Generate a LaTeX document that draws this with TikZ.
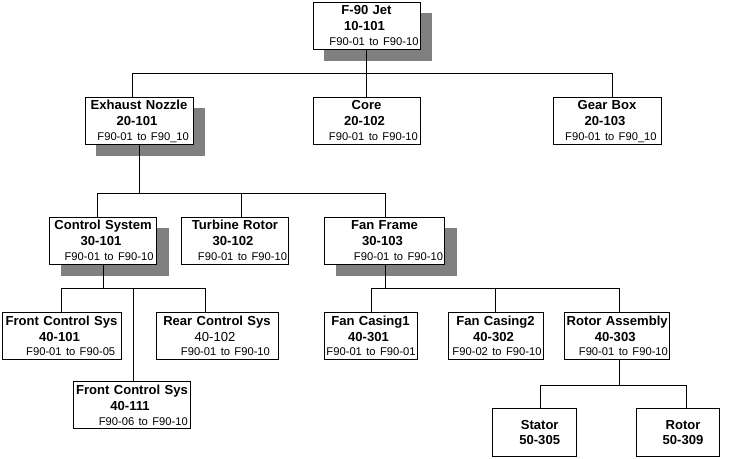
\documentclass[tikz,border=0pt]{standalone}
\usepackage{fontspec}
\setmainfont{Liberation Sans}
\usetikzlibrary{backgrounds}
\definecolor{shadowgray}{RGB}{128,128,128}
\newcommand\bxtri[4]{#1\\[1.1pt]#2\kern3pt\\\makebox[\linewidth][r]{\fontsize{8.4}{10.9}\selectfont\mdseries #3\hspace*{#4pt}}}
\newcommand\bxduo[2]{\hspace*{7.5pt}#1\\[0.35pt]\hspace*{7.5pt}#2}
\tikzset{
  orgbox/.style={draw, line width=0.75pt, fill=white, inner xsep=1.125pt, inner ysep=0pt,
    align=center, font=\fontsize{9.8}{10.9}\selectfont\bfseries,
    text height=7.1pt, text depth=22.9pt, minimum height=35.25pt},
  leafbox/.style={orgbox, text depth=11.25pt, minimum height=35.8pt},
  bw/.style={minimum width={#1*0.75pt}, text width={(#1-3)*0.75pt}},
  shade/.style={fill=shadowgray, draw=none},
  link/.style={line width=0.75pt}
}
\begin{document}
\begin{tikzpicture}[x=0.75pt,y=-0.75pt]
\useasboundingbox (0,0) rectangle (733,458);
% level 1
\node[orgbox, bw=107] (jet) at (366.5,25.5) {\bxtri{F-90 Jet}{10-101}{F90-01 to F90-10}{0}};
% level 2
\node[orgbox, bw=108] (exhaust) at (139,120.5) {\bxtri{Exhaust Nozzle}{20-101}{F90-01 to F90\_10}{1.9}};
\node[orgbox, bw=107] (core) at (366.5,120.5) {\bxtri{Core}{20-102}{F90-01 to F90-10}{0.4}};
\node[orgbox, bw=108] (gear) at (607,120.5) {\bxtri{Gear Box}{20-103}{F90-01 to F90\_10}{2.1}};
% level 3
\node[orgbox, bw=107] (ctrl) at (103,240.5) {\bxtri{Control System}{30-101}{F90-01 to F90-10}{1.1}};
\node[orgbox, bw=107] (turb) at (235,240.5) {\bxtri{Turbine Rotor}{30-102}{F90-01 to F90-10}{0}};
\node[orgbox, bw=120] (fanframe) at (384.5,240.5) {\bxtri{Fan Frame}{30-103}{F90-01 to F90-10}{0}};
% level 4
\node[orgbox, bw=119] (fcsa) at (61.5,335.7) {\bxtri{Front Control Sys}{40-101}{F90-01 to F90-05}{3.2}};
\node[orgbox, bw=122] (rcs) at (217,335.7) {\bxtri{Rear Control Sys}{{\mdseries 40-102}}{F90-01 to F90-10}{4.9}};
\node[orgbox, bw=93] (fca) at (370.5,335.7) {\bxtri{Fan Casing1}{40-301}{F90-01 to F90-01}{0}};
\node[orgbox, bw=95] (fcb) at (495.5,335.7) {\bxtri{Fan Casing2}{40-302}{F90-02 to F90-10}{0}};
\node[orgbox, bw=104.5] (rotasm) at (617.2,335.7) {\bxtri{Rotor Assembly}{40-303}{F90-01 to F90-10}{0}};
\node[orgbox, bw=117.5] (fcsb) at (132,405) {\bxtri{Front Control Sys}{40-111}{F90-06 to F90-10}{1.1}};
% level 5
\node[leafbox, bw=84] (stator) at (534.7,432.2) {\bxduo{Stator}{50-305}};
\node[leafbox, bw=82.6] (rotor) at (678,432.2) {\bxduo{Rotor}{50-309}};
% buses
\coordinate (bus1) at (366.5,73);
\coordinate (bus2) at (139,193.3);
\coordinate (bus3) at (103,288.5);
\coordinate (bus4) at (385.5,288.5);
\coordinate (bus5) at (619.5,385);
\begin{scope}[on background layer]
  \fill[white] (0,0) rectangle (733,458);
  \foreach \n in {jet,exhaust,ctrl,fanframe}
    \fill[shade] ([shift={(11.5,11.5)}]\n.south west) rectangle ([shift={(11.5,11.5)}]\n.north east);
  % level 1 -> 2
  \draw[link] (jet.south -| bus1) -- (bus1);
  \draw[link] ([xshift=-4.875pt]exhaust.north) |- (bus1);
  \draw[link] (core.north -| bus1) -- (bus1);
  \draw[link] ([xshift=4.125pt]gear.north) |- (bus1);
  % level 2 -> 3
  \draw[link] (exhaust.south -| bus2) -- (bus2);
  \draw[link] ([xshift=-4.3pt]ctrl.north) |- (bus2);
  \draw[link] ([xshift=4.7pt]turb.north) |- (bus2);
  \draw[link] ([xshift=0.6pt]fanframe.north) |- (bus2);
  % level 3 -> 4 (left)
  \draw[link] (ctrl.south -| bus3) -- (bus3);
  \draw[link] (fcsa.north) |- (bus3);
  \draw[link] ([xshift=0.75pt]fcsb.north) |- (bus3);
  \draw[link] ([xshift=-8.6pt]rcs.north) |- (bus3);
  % level 3 -> 4 (right)
  \draw[link] (fanframe.south -| bus4) -- (bus4);
  \draw[link] ([xshift=1.1pt]fca.north) |- (bus4);
  \draw[link] (fcb.north) |- (bus4);
  \draw[link] ([xshift=1.6pt]rotasm.north) |- (bus4);
  % level 4 -> 5
  \draw[link] (rotasm.south -| bus5) -- (bus5);
  \draw[link] ([xshift=4.5pt]stator.north) |- (bus5);
  \draw[link] ([xshift=6pt]rotor.north) |- (bus5);
\end{scope}
\end{tikzpicture}
\end{document}
